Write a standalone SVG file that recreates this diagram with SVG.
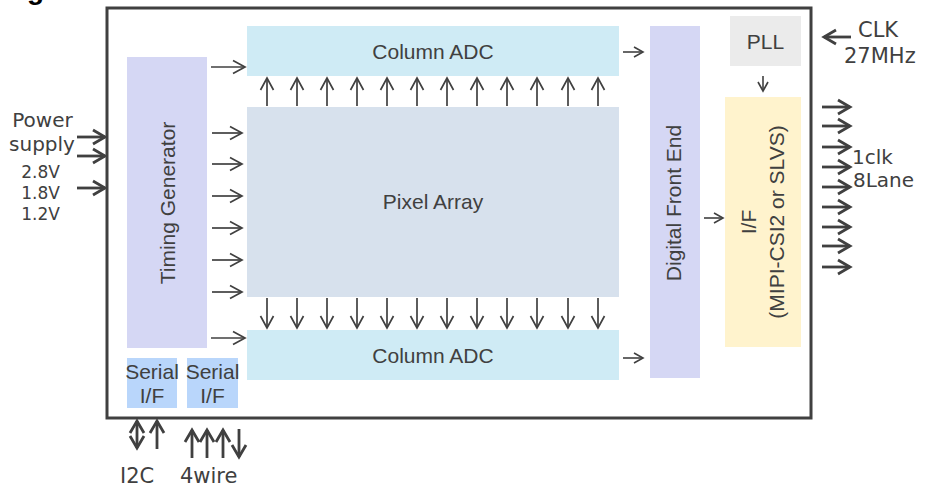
<svg xmlns="http://www.w3.org/2000/svg" width="929" height="491" viewBox="0 0 929 491">
<style>
.in{font-family:"Liberation Sans",Arial,sans-serif;font-size:21px;fill:#404040}
.out{font-family:"DejaVu Sans",Verdana,sans-serif;fill:#404040}
.a{stroke:#404040;stroke-width:1.7;fill:none;marker-end:url(#ah)}
.as{stroke:#404040;stroke-width:1.6;fill:none;marker-end:url(#ahs)}
.at{stroke:#404040;stroke-width:2.8;fill:none;marker-end:url(#aht)}
</style>
<defs>
<marker id="ah" markerUnits="userSpaceOnUse" markerWidth="16" markerHeight="16" refX="13" refY="7.5" orient="auto-start-reverse" overflow="visible">
<path d="M1,1 L13,7.5 L1,14" fill="none" stroke="#404040" stroke-width="1.7"/>
</marker>
<marker id="ahs" markerUnits="userSpaceOnUse" markerWidth="14" markerHeight="14" refX="10" refY="6" orient="auto-start-reverse" overflow="visible">
<path d="M1,1 L10,6 L1,11" fill="none" stroke="#404040" stroke-width="1.6"/>
</marker>
<marker id="aht" markerUnits="userSpaceOnUse" markerWidth="16" markerHeight="18" refX="13" refY="8" orient="auto-start-reverse" overflow="visible">
<path d="M1,1 L13,8 L1,15" fill="none" stroke="#404040" stroke-width="2.8"/>
</marker>
</defs>
<rect width="929" height="491" fill="#ffffff"/>
<text x="27" y="-1" font-family="Liberation Sans,Arial,sans-serif" font-size="28" font-weight="bold" fill="#000000">g</text>
<g id="chip">
<rect x="107" y="8" width="704" height="410" fill="#ffffff" stroke="#404040" stroke-width="3"/>
</g>
<g id="timing-generator">
<rect x="127" y="57" width="80" height="291" fill="#d5d7f4"/>
<text class="in" transform="translate(175,203) rotate(-90)" text-anchor="middle">Timing Generator</text>
</g>
<g id="serial-if-1">
<rect x="127" y="358" width="50" height="50" fill="#b9d6fb"/>
<text class="in" x="152" y="379" text-anchor="middle" font-size="19">Serial</text>
<text class="in" x="152" y="403" text-anchor="middle" font-size="19">I/F</text>
</g>
<g id="serial-if-2">
<rect x="187" y="358" width="51" height="50" fill="#b9d6fb"/>
<text class="in" x="212.5" y="379" text-anchor="middle" font-size="19">Serial</text>
<text class="in" x="212.5" y="403" text-anchor="middle" font-size="19">I/F</text>
</g>
<g id="column-adc-top">
<rect x="247" y="26" width="372" height="50" fill="#cfebf5"/>
<text class="in" x="433" y="59" text-anchor="middle">Column ADC</text>
</g>
<g id="pixel-array">
<rect x="247" y="107" width="372" height="190" fill="#d7e1ed"/>
<text class="in" x="433" y="209" text-anchor="middle">Pixel Array</text>
</g>
<g id="column-adc-bottom">
<rect x="247" y="330" width="372" height="50" fill="#cfebf5"/>
<text class="in" x="433" y="363" text-anchor="middle">Column ADC</text>
</g>
<g id="digital-front-end">
<rect x="650" y="26" width="50" height="352" fill="#d5d7f4"/>
<text class="in" transform="translate(681,203) rotate(-90)" text-anchor="middle">Digital Front End</text>
</g>
<g id="pll">
<rect x="730" y="16" width="71" height="50" fill="#ebebeb"/>
<text class="in" x="765.5" y="49" text-anchor="middle">PLL</text>
</g>
<g id="interface">
<rect x="725" y="97" width="76" height="250" fill="#fff3cd"/>
<text class="in" transform="translate(756,222) rotate(-90)" text-anchor="middle">I/F</text>
<text class="in" transform="translate(784,222) rotate(-90)" text-anchor="middle">(MIPI-CSI2 or SLVS)</text>
</g>
<g id="labels">
<text class="out" x="42.5" y="127" font-size="20" text-anchor="middle">Power</text>
<text class="out" x="42" y="151" font-size="20" text-anchor="middle">supply</text>
<text class="out" x="40.5" y="178" font-size="17" text-anchor="middle">2.8V</text>
<text class="out" x="40.5" y="199" font-size="17" text-anchor="middle">1.8V</text>
<text class="out" x="40.5" y="220" font-size="17" text-anchor="middle">1.2V</text>
<text class="out" x="858" y="37" font-size="21">CLK</text>
<text class="out" x="844" y="63" font-size="21">27MHz</text>
<text class="out" x="852" y="163.5" font-size="20">1clk</text>
<text class="out" x="853" y="187" font-size="20">8Lane</text>
<text class="out" x="120" y="483" font-size="21">I2C</text>
<text class="out" x="180" y="483" font-size="21">4wire</text>
</g>
<g id="connectors">
<line class="at" x1="77" y1="137" x2="105" y2="137"/>
<line class="at" x1="77" y1="156" x2="105" y2="156"/>
<line class="at" x1="77" y1="188" x2="105" y2="188"/>
<line class="a" x1="211" y1="67" x2="245" y2="67"/>
<line class="a" x1="212" y1="133" x2="242" y2="133"/>
<line class="a" x1="212" y1="164" x2="242" y2="164"/>
<line class="a" x1="212" y1="196" x2="242" y2="196"/>
<line class="a" x1="212" y1="228" x2="242" y2="228"/>
<line class="a" x1="212" y1="260" x2="242" y2="260"/>
<line class="a" x1="212" y1="292" x2="242" y2="292"/>
<line class="a" x1="211" y1="338" x2="245" y2="338"/>
<line class="a" x1="267" y1="106" x2="267" y2="78"/>
<line class="a" x1="297" y1="106" x2="297" y2="78"/>
<line class="a" x1="327" y1="106" x2="327" y2="78"/>
<line class="a" x1="357" y1="106" x2="357" y2="78"/>
<line class="a" x1="387" y1="106" x2="387" y2="78"/>
<line class="a" x1="417" y1="106" x2="417" y2="78"/>
<line class="a" x1="447" y1="106" x2="447" y2="78"/>
<line class="a" x1="477" y1="106" x2="477" y2="78"/>
<line class="a" x1="507" y1="106" x2="507" y2="78"/>
<line class="a" x1="537" y1="106" x2="537" y2="78"/>
<line class="a" x1="568" y1="106" x2="568" y2="78"/>
<line class="a" x1="598" y1="106" x2="598" y2="78"/>
<line class="a" x1="267" y1="298" x2="267" y2="328"/>
<line class="a" x1="297" y1="298" x2="297" y2="328"/>
<line class="a" x1="327" y1="298" x2="327" y2="328"/>
<line class="a" x1="357" y1="298" x2="357" y2="328"/>
<line class="a" x1="387" y1="298" x2="387" y2="328"/>
<line class="a" x1="417" y1="298" x2="417" y2="328"/>
<line class="a" x1="447" y1="298" x2="447" y2="328"/>
<line class="a" x1="477" y1="298" x2="477" y2="328"/>
<line class="a" x1="507" y1="298" x2="507" y2="328"/>
<line class="a" x1="537" y1="298" x2="537" y2="328"/>
<line class="a" x1="568" y1="298" x2="568" y2="328"/>
<line class="a" x1="598" y1="298" x2="598" y2="328"/>
<line class="as" x1="623" y1="52" x2="643" y2="52"/>
<line class="as" x1="623" y1="358" x2="643" y2="358"/>
<line class="as" x1="704" y1="218" x2="723" y2="218"/>
<line class="as" x1="763" y1="76" x2="763" y2="91"/>
<line class="at" x1="851" y1="37" x2="824" y2="37"/>
<line class="at" x1="822" y1="107" x2="850" y2="107"/>
<line class="at" x1="822" y1="126" x2="850" y2="126"/>
<line class="at" x1="822" y1="147" x2="850" y2="147"/>
<line class="at" x1="822" y1="167" x2="850" y2="167"/>
<line class="at" x1="822" y1="187" x2="850" y2="187"/>
<line class="at" x1="822" y1="207" x2="850" y2="207"/>
<line class="at" x1="822" y1="227" x2="850" y2="227"/>
<line class="at" x1="822" y1="246" x2="850" y2="246"/>
<line class="at" x1="822" y1="267" x2="850" y2="267"/>
<line class="at" x1="137" y1="421" x2="137" y2="448" style="marker-start:url(#aht)"/>
<line class="at" x1="157" y1="449" x2="157" y2="421"/>
<line class="at" x1="192" y1="458" x2="192" y2="430"/>
<line class="at" x1="207" y1="458" x2="207" y2="430"/>
<line class="at" x1="223" y1="458" x2="223" y2="430"/>
<line class="at" x1="239" y1="429" x2="239" y2="457"/>
</g>
</svg>
